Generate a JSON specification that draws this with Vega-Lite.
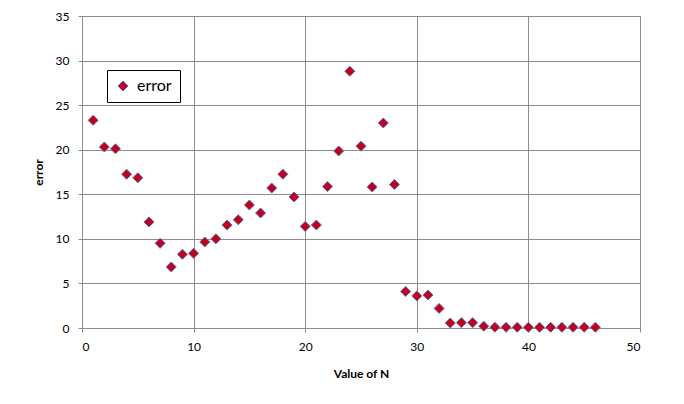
{
  "$schema": "https://vega.github.io/schema/vega-lite/v6.json",
  "width": 558,
  "height": 312,
  "autosize": {"type": "none"},
  "padding": {"left": 82, "top": 16, "right": 44, "bottom": 76},
  "background": "white",
  "data": {"values": [
    {"N": 1, "error": 23.3}, {"N": 2, "error": 20.3}, {"N": 3, "error": 20.1},
    {"N": 4, "error": 17.25}, {"N": 5, "error": 16.85}, {"N": 6, "error": 11.9},
    {"N": 7, "error": 9.5}, {"N": 8, "error": 6.85}, {"N": 9, "error": 8.27},
    {"N": 10, "error": 8.38}, {"N": 11, "error": 9.65}, {"N": 12, "error": 10.0},
    {"N": 13, "error": 11.55}, {"N": 14, "error": 12.15}, {"N": 15, "error": 13.8},
    {"N": 16, "error": 12.9}, {"N": 17, "error": 15.7}, {"N": 18, "error": 17.25},
    {"N": 19, "error": 14.7}, {"N": 20, "error": 11.4}, {"N": 21, "error": 11.55},
    {"N": 22, "error": 15.86}, {"N": 23, "error": 19.86}, {"N": 24, "error": 28.8},
    {"N": 25, "error": 20.4}, {"N": 26, "error": 15.82}, {"N": 27, "error": 23.0},
    {"N": 28, "error": 16.1}, {"N": 29, "error": 4.1}, {"N": 30, "error": 3.6},
    {"N": 31, "error": 3.7}, {"N": 32, "error": 2.2}, {"N": 33, "error": 0.56},
    {"N": 34, "error": 0.6}, {"N": 35, "error": 0.6}, {"N": 36, "error": 0.2},
    {"N": 37, "error": 0.08}, {"N": 38, "error": 0.08}, {"N": 39, "error": 0.08},
    {"N": 40, "error": 0.08}, {"N": 41, "error": 0.08}, {"N": 42, "error": 0.08},
    {"N": 43, "error": 0.08}, {"N": 44, "error": 0.08}, {"N": 45, "error": 0.08},
    {"N": 46, "error": 0.08}
  ]},
  "mark": {"type": "point", "shape": "diamond", "filled": true, "size": 100, "stroke": "#5d6fa3", "strokeWidth": 1, "opacity": 1},
  "encoding": {
    "x": {"field": "N", "type": "quantitative", "title": "Value  of N",
      "scale": {"domain": [0, 50], "nice": false, "zero": false},
      "axis": {"values": [0, 10, 20, 30, 40, 50], "labelPadding": 9, "titlePadding": 16}},
    "y": {"field": "error", "type": "quantitative", "title": "error",
      "scale": {"domain": [0, 35], "nice": false},
      "axis": {"values": [0, 5, 10, 15, 20, 25, 30, 35], "labelPadding": 9, "titlePadding": 10}},
    "color": {"datum": "error", "type": "nominal",
      "scale": {"range": ["#c0001c"]},
      "legend": {"title": null, "orient": "none", "legendX": 25, "legendY": 54,
        "strokeColor": "black", "padding": 8, "symbolType": "diamond", "symbolSize": 100,
        "symbolStrokeColor": "#5d6fa3", "symbolStrokeWidth": 1, "symbolOpacity": 1,
        "labelFontSize": 16, "labelFont": "Lato", "labelColor": "black", "labelOffset": 6,
        "fillColor": "white"}}
  },
  "config": {
    "view": {"stroke": "#8c8c8c", "strokeWidth": 1},
    "axis": {
      "grid": true, "gridColor": "#8c8c8c", "gridWidth": 1,
      "domainColor": "#8c8c8c", "tickColor": "#8c8c8c", "tickSize": 4,
      "labelFont": "Lato", "labelFontSize": 12, "labelColor": "black",
      "titleFont": "Lato", "titleFontSize": 12, "titleFontWeight": "bold", "titleColor": "black"
    }
  }
}
